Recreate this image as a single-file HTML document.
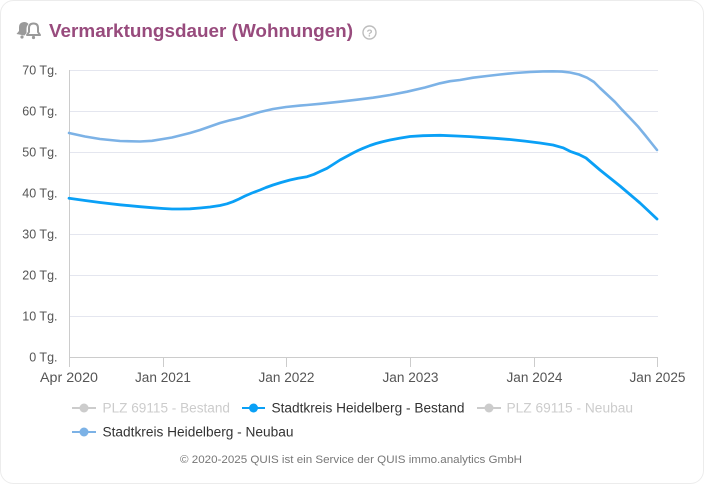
<!DOCTYPE html>
<html><head><meta charset="utf-8"><style>
html,body{margin:0;padding:0;background:#fff;}
svg{display:block;}
text{font-family:"Liberation Sans",sans-serif;}
</style></head><body>
<svg width="704" height="484" viewBox="0 0 704 484" xmlns="http://www.w3.org/2000/svg">
<rect x="0.5" y="0.5" width="703" height="483" rx="13" ry="13" fill="#fff" stroke="#ececec" stroke-width="1"/>
<!-- bell icon -->
<g fill="#9a9a9a">
<path d="M16.5 34 L19 31 L19 27 Q19 22.5 24 22 Q27 22 28.5 24 Q26.5 26 26.5 29 L26.5 33 L24.5 35.5 Z"/>
<circle cx="22" cy="37" r="1.6"/>
</g>
<g fill="none" stroke="#9a9a9a" stroke-width="2">
<path d="M27 35 L29 32 L29 28 Q29 23.5 33.5 23.5 Q38 23.5 38 28 L38 32 L40 35 Z" stroke-linejoin="round"/>
</g>
<circle cx="33.5" cy="37.5" r="1.6" fill="#9a9a9a"/>
<!-- title -->
<text x="49" y="37" font-size="18.5" font-weight="bold" fill="#984b7d" textLength="304" lengthAdjust="spacingAndGlyphs">Vermarktungsdauer (Wohnungen)</text>
<circle cx="369.5" cy="32.5" r="6.5" fill="none" stroke="#bdbdbd" stroke-width="1.4"/>
<text x="369.5" y="36.5" font-size="10" font-weight="bold" fill="#bdbdbd" text-anchor="middle">?</text>
<!-- gridlines -->
<g stroke="#e4e6ef" stroke-width="1">
<line x1="69" y1="70.5" x2="658" y2="70.5"/>
<line x1="69" y1="111.5" x2="658" y2="111.5"/>
<line x1="69" y1="152.5" x2="658" y2="152.5"/>
<line x1="69" y1="193.5" x2="658" y2="193.5"/>
<line x1="69" y1="234.5" x2="658" y2="234.5"/>
<line x1="69" y1="275.5" x2="658" y2="275.5"/>
<line x1="69" y1="316.5" x2="658" y2="316.5"/>
</g>
<!-- axes -->
<line x1="69.5" y1="70" x2="69.5" y2="357" stroke="#cccccc" stroke-width="1"/>
<line x1="69" y1="357.5" x2="658" y2="357.5" stroke="#cccccc" stroke-width="1"/>
<g stroke="#cccccc" stroke-width="1">
<line x1="69.5" y1="357" x2="69.5" y2="367"/>
<line x1="163.5" y1="357" x2="163.5" y2="367"/>
<line x1="286.5" y1="357" x2="286.5" y2="367"/>
<line x1="410.5" y1="357" x2="410.5" y2="367"/>
<line x1="534.5" y1="357" x2="534.5" y2="367"/>
<line x1="657.5" y1="357" x2="657.5" y2="367"/>
</g>
<!-- y labels -->
<g font-size="12.5" fill="#555" text-anchor="end">
<text x="57.5" y="74.5">70 Tg.</text>
<text x="57.5" y="115.5">60 Tg.</text>
<text x="57.5" y="156.5">50 Tg.</text>
<text x="57.5" y="197.5">40 Tg.</text>
<text x="57.5" y="238.5">30 Tg.</text>
<text x="57.5" y="279.5">20 Tg.</text>
<text x="57.5" y="320.5">10 Tg.</text>
<text x="57.5" y="361.5">0 Tg.</text>
</g>
<!-- x labels -->
<g font-size="13.5" fill="#555" text-anchor="middle">
<text x="69" y="382" textLength="58" lengthAdjust="spacingAndGlyphs">Apr 2020</text>
<text x="163" y="382" textLength="56" lengthAdjust="spacingAndGlyphs">Jan 2021</text>
<text x="286.5" y="382" textLength="56" lengthAdjust="spacingAndGlyphs">Jan 2022</text>
<text x="410.5" y="382" textLength="56" lengthAdjust="spacingAndGlyphs">Jan 2023</text>
<text x="534.5" y="382" textLength="56" lengthAdjust="spacingAndGlyphs">Jan 2024</text>
<text x="657.5" y="382" textLength="56" lengthAdjust="spacingAndGlyphs">Jan 2025</text>
</g>
<!-- series -->
<polyline fill="none" stroke="#7cb2e6" stroke-width="2.6" stroke-linejoin="round" stroke-linecap="round" points="69,133 85,136.5 100,139 120,141 140,141.5 152,140.8 163,139 172,137.5 180,135.5 190,133 200,130 210,126.5 220,123 230,120.3 240,118 250,115 260,112 273,109 286,107 300,105.6 307,105 320,103.8 340,101.7 356,99.8 373,97.7 390,95 407,91.7 425,87.5 440,83.3 450,81.2 460,80 473,77.7 487,76 500,74.5 515,73 530,72 543,71.4 553,71.3 562,71.6 570,72.5 579,74.5 587,77.7 594,82 600,88 607,94.5 615,102 622,109.7 630,118 638,126.5 645,135 651,142.5 657,150"/>
<polyline fill="none" stroke="#0aa0f6" stroke-width="2.8" stroke-linejoin="round" stroke-linecap="round" points="69,198.3 85,200.5 100,202.5 120,204.8 140,206.7 152,207.7 163,208.5 172,209 180,209 190,208.8 200,208 210,207 220,205.5 227,203.8 233,201.7 239,199 245,196 252,193 260,190 266,187.5 273,185 281,182.5 290,180 298,178.3 307,176.7 314,174.3 320,171.5 327,168.3 333,164.5 340,160 347,156.3 353,153 358,150.5 363,148.3 370,145.5 376,143.5 383,141.6 390,140 400,138.1 410,136.5 423,135.7 440,135.3 457,136 470,136.6 480,137.3 495,138.3 510,139.5 525,141.1 540,143 553,145 563,147.8 571,151.7 579,154.5 586,158 593,164 600,170 610,178 620,186 630,194.5 640,203 648,210.5 657,219"/>
<!-- legend -->
<g>
<line x1="72" y1="408" x2="96" y2="408" stroke="#cccccc" stroke-width="2"/>
<circle cx="84" cy="408" r="4.5" fill="#cccccc"/>
<text x="102.5" y="412.5" font-size="13.5" fill="#cccccc" textLength="127.5" lengthAdjust="spacingAndGlyphs">PLZ 69115 - Bestand</text>
<line x1="242" y1="408" x2="265" y2="408" stroke="#0aa0f6" stroke-width="2"/>
<circle cx="253.5" cy="408" r="4.5" fill="#0aa0f6"/>
<text x="271.5" y="412.5" font-size="13.5" fill="#333" textLength="193" lengthAdjust="spacingAndGlyphs">Stadtkreis Heidelberg - Bestand</text>
<line x1="477" y1="408" x2="501" y2="408" stroke="#cccccc" stroke-width="2"/>
<circle cx="489" cy="408" r="4.5" fill="#cccccc"/>
<text x="506.5" y="412.5" font-size="13.5" fill="#cccccc" textLength="126.5" lengthAdjust="spacingAndGlyphs">PLZ 69115 - Neubau</text>
<line x1="72" y1="432" x2="96" y2="432" stroke="#7cb2e6" stroke-width="2"/>
<circle cx="84" cy="432" r="4.5" fill="#7cb2e6"/>
<text x="102.5" y="436.5" font-size="13.5" fill="#333" textLength="191" lengthAdjust="spacingAndGlyphs">Stadtkreis Heidelberg - Neubau</text>
</g>
<!-- footer -->
<text x="351" y="463" font-size="11" fill="#777" text-anchor="middle" textLength="342" lengthAdjust="spacingAndGlyphs">© 2020-2025 QUIS ist ein Service der QUIS immo.analytics GmbH</text>
</svg>
</body></html>
